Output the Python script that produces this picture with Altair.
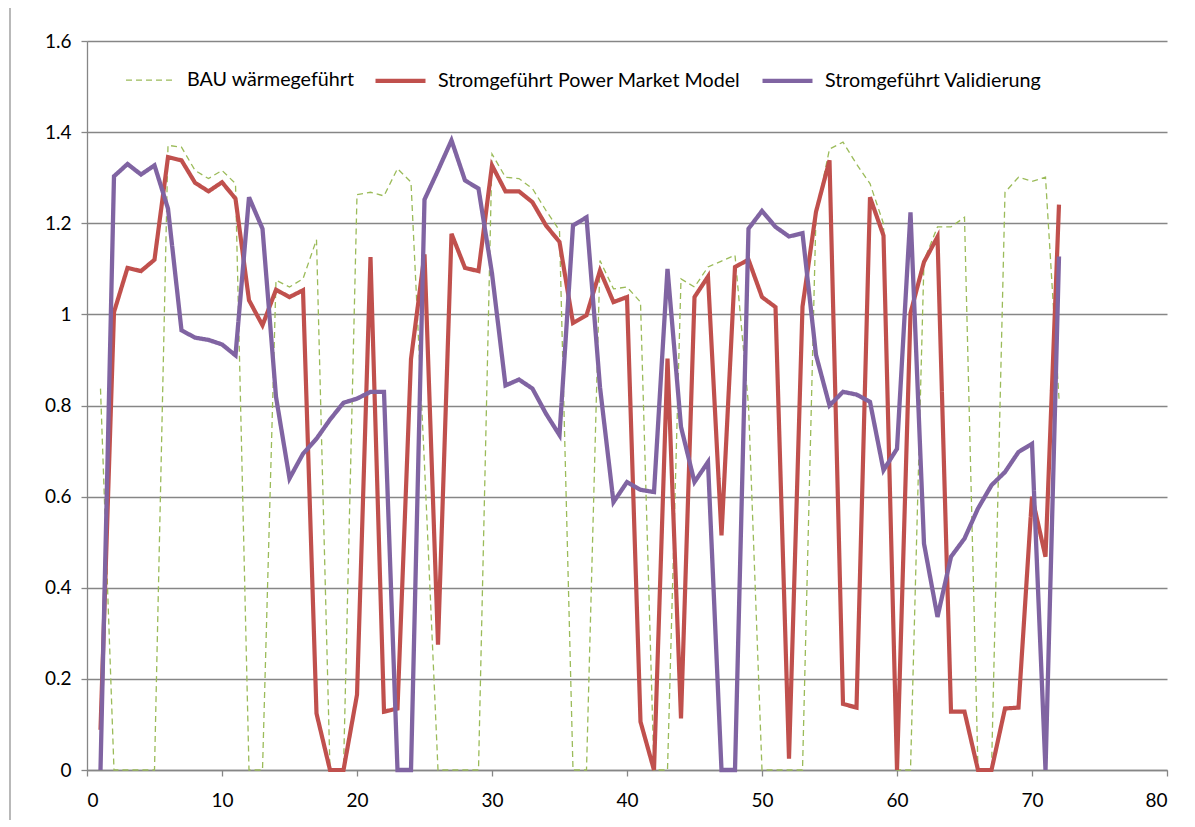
import altair as alt
import pandas as pd

x_vals = list(range(1, 73))

bau = [0.837, 0, 0, 0, 0, 1.371, 1.367, 1.316, 1.298, 1.316, 1.287, 0, 0, 1.075, 1.060, 1.078,
       1.164, 0, 0, 1.263, 1.268, 1.260, 1.320, 1.290, 0.67, 0, 0, 0, 0, 1.352, 1.301, 1.298,
       1.276, 1.228, 1.184, 0, 0, 1.118, 1.056, 1.060, 1.027, 0, 0, 1.078, 1.060, 1.104, 1.117,
       1.130, 0.80, 0, 0, 0, 0, 1.22, 1.363, 1.378, 1.330, 1.287, 1.199, 0, 0, 1.118, 1.192,
       1.192, 1.213, 0, 0, 1.268, 1.301, 1.292, 1.301, 0.815]

pmm = [0.088, 1.005, 1.102, 1.095, 1.120, 1.345, 1.338, 1.289, 1.270, 1.290, 1.254, 1.031, 0.976,
       1.054, 1.038, 1.053, 0.124, 0, 0, 0.165, 1.126, 0.128, 0.135, 0.902, 1.132, 0.275, 1.177,
       1.102, 1.095, 1.327, 1.270, 1.270, 1.246, 1.195, 1.159, 0.981, 0.998, 1.096, 1.027, 1.038,
       0.106, 0, 0.903, 0.113, 1.038, 1.083, 0.515, 1.104, 1.120, 1.038, 1.016, 0.025, 1.017,
       1.225, 1.338, 0.145, 0.137, 1.257, 1.173, 0, 1.003, 1.115, 1.170, 0.128, 0.128, 0, 0,
       0.135, 0.137, 0.600, 0.468, 1.241]

valid = [0, 1.303, 1.330, 1.307, 1.327, 1.232, 0.965, 0.949, 0.944, 0.934, 0.910, 1.257, 1.188,
         0.819, 0.640, 0.694, 0.727, 0.769, 0.806, 0.815, 0.830, 0.830, 0, 0, 1.252, 1.316, 1.382,
         1.294, 1.276, 1.09, 0.844, 0.857, 0.837, 0.782, 0.735, 1.195, 1.213, 0.84, 0.588, 0.632,
         0.615, 0.610, 1.100, 0.753, 0.632, 0.676, 0, 0, 1.188, 1.227, 1.192, 1.171, 1.178, 0.911,
         0.800, 0.830, 0.824, 0.808, 0.658, 0.705, 1.224, 0.497, 0.336, 0.468, 0.508, 0.574,
         0.625, 0.654, 0.698, 0.716, 0, 1.127]

series_names = ["BAU wärmegeführt", "Stromgeführt Power Market Model", "Stromgeführt Validierung"]
series_colors = ["#9BBB59", "#C0504D", "#8064A2"]
series_widths = [1.3, 4.2, 4.3]
series_dashes = [[6, 4], [1, 0], [1, 0]]

x_ticks = list(range(0, 81, 10))
y_ticks = [0, 0.2, 0.4, 0.6, 0.8, 1.0, 1.2, 1.4, 1.6]

rows = []
for name, vals in zip(series_names, [bau, pmm, valid]):
    for xv, yv in zip(x_vals, vals):
        rows.append({"x": xv, "y": yv, "series": name})
df = pd.DataFrame(rows)

FONT = "Lato"
W, H = 1080, 729

enc = dict(
    x=alt.X("x:Q", scale=alt.Scale(domain=[0, 80], nice=False),
            axis=alt.Axis(values=x_ticks, grid=False, title=None, labelFontSize=19,
                          labelFont=FONT, labelColor="#000000", tickSize=6, labelPadding=15,
                          domainColor="#868686", tickColor="#868686", domainWidth=1.3, tickWidth=1.3)),
    y=alt.Y("y:Q", scale=alt.Scale(domain=[0, 1.6], nice=False),
            axis=alt.Axis(values=y_ticks, format=".1~f", title=None, labelFontSize=19,
                          labelFont=FONT, labelColor="#000000", tickSize=6, labelPadding=10,
                          gridColor="#868686", gridWidth=1.3, domainColor="#868686",
                          tickColor="#868686", domainWidth=1.3, tickWidth=1.3)),
    color=alt.Color("series:N", scale=alt.Scale(domain=series_names, range=series_colors),
                    sort=series_names, title=None),
    strokeDash=alt.StrokeDash("series:N", scale=alt.Scale(domain=series_names, range=series_dashes),
                              sort=series_names, title=None),
    strokeWidth=alt.StrokeWidth("series:N",
                                scale=alt.Scale(type="ordinal", domain=series_names, range=series_widths),
                                sort=series_names, title=None),
)

base = alt.Chart(df).mark_line().encode(**enc)
layers = [base.transform_filter(alt.datum.series == s) for s in series_names]

frame = alt.Chart(pd.DataFrame({"a": [0]})).mark_rect(
    fill="transparent", stroke="#8a8a8a", strokeWidth=1.2
).encode(x=alt.value(-77), x2=alt.value(1105), y=alt.value(-35), y2=alt.value(790))

chart = alt.layer(frame, *layers).properties(
    width=W, height=H,
    autosize=alt.AutoSizeParams(type="none"),
    padding={"left": 79, "top": 33, "right": 20, "bottom": 50},
).configure_view(strokeWidth=0).configure_legend(
    orient="none", legendX=38, legendY=12, direction="horizontal",
    symbolType="stroke", symbolSize=2500, labelFont=FONT, labelFontSize=19.7,
    labelColor="#000000", labelOffset=10, columnPadding=12, padding=0,
    labelLimit=0, offset=0,
)

chart.save("out.html", embed_options={"renderer": "svg", "actions": False})
